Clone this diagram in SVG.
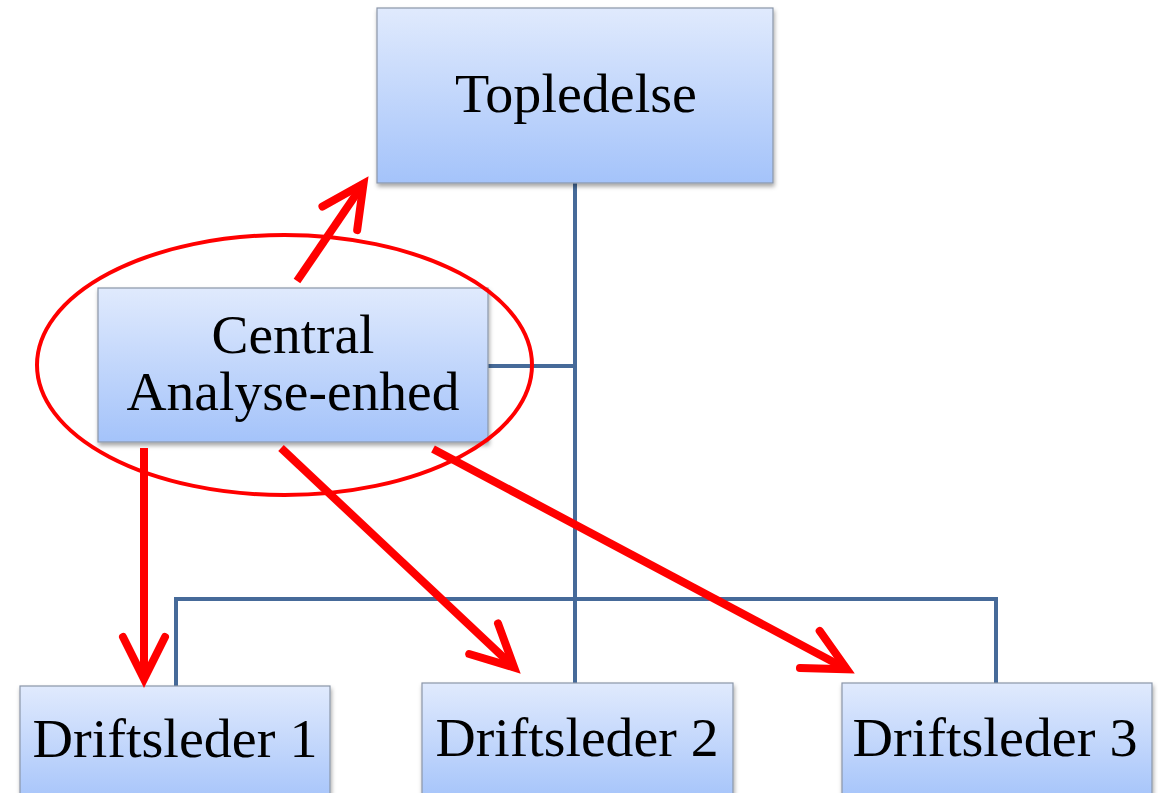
<svg xmlns="http://www.w3.org/2000/svg" width="1158" height="793" viewBox="0 0 1158 793">
<style>
.box{fill:url(#g);stroke:#8a96a8;stroke-width:1.2;filter:url(#sh)}
.lbl{font-family:"Liberation Serif","Times New Roman",serif;font-size:54px;fill:#000;text-anchor:middle}
.org{fill:none;stroke:#466a99;stroke-width:4}
.red{fill:none;stroke:#ff0000;stroke-width:8}
</style>
<defs>
<linearGradient id="g" x1="0" y1="0" x2="0" y2="1">
<stop offset="0" stop-color="#e0eafd"/>
<stop offset="1" stop-color="#a4c3fa"/>
</linearGradient>
<filter id="sh" x="-10%" y="-10%" width="120%" height="130%">
<feDropShadow dx="1" dy="3" stdDeviation="2" flood-color="#000" flood-opacity="0.35"/>
</filter>
<marker id="ah" markerUnits="userSpaceOnUse" viewBox="-50 -30 60 60" refX="0" refY="0" markerWidth="60" markerHeight="60" orient="auto" overflow="visible">
<path d="M-42,-21 L0,0 L-42,21" fill="none" stroke="#ff0000" stroke-width="8" stroke-linecap="round" stroke-linejoin="miter" stroke-miterlimit="10"/>
</marker>
</defs>
<rect width="1158" height="793" fill="#fff"/>
<g id="connectors">
<path class="org" d="M575,183 V599 M488,366 H575 M176,686 V599 H996 V683 M575,599 V683"/>
</g>
<g id="topledelse">
<rect class="box" x="377" y="8" width="396" height="175"/>
<text class="lbl" x="576" y="112" textLength="242" lengthAdjust="spacingAndGlyphs">Topledelse</text>
</g>
<g id="central">
<rect class="box" x="98" y="288" width="390" height="154"/>
<text class="lbl" x="293" y="353" textLength="163" lengthAdjust="spacingAndGlyphs">Central</text>
<text class="lbl" x="293" y="410" textLength="333" lengthAdjust="spacingAndGlyphs">Analyse-enhed</text>
</g>
<g id="driftsleder1">
<rect class="box" x="20" y="686" width="310" height="120"/>
<text class="lbl" x="175" y="757" textLength="285" lengthAdjust="spacingAndGlyphs">Driftsleder 1</text>
</g>
<g id="driftsleder2">
<rect class="box" x="422" y="683" width="311" height="120"/>
<text class="lbl" x="577" y="756" textLength="283" lengthAdjust="spacingAndGlyphs">Driftsleder 2</text>
</g>
<g id="driftsleder3">
<rect class="box" x="842" y="683" width="310" height="120"/>
<text class="lbl" x="995" y="756" textLength="285" lengthAdjust="spacingAndGlyphs">Driftsleder 3</text>
</g>
<g id="highlight">
<ellipse cx="284.5" cy="365" rx="247.5" ry="130" fill="none" stroke="#ff0000" stroke-width="4"/>
</g>
<g id="arrows">
<line class="red" x1="297" y1="281" x2="363.5" y2="183.6" marker-end="url(#ah)"/>
<line class="red" x1="144" y1="448" x2="144" y2="679" marker-end="url(#ah)"/>
<line class="red" x1="281" y1="448" x2="514.2" y2="667.5" marker-end="url(#ah)"/>
<line class="red" x1="433" y1="449" x2="846.9" y2="669.2" marker-end="url(#ah)"/>
</g>
</svg>
